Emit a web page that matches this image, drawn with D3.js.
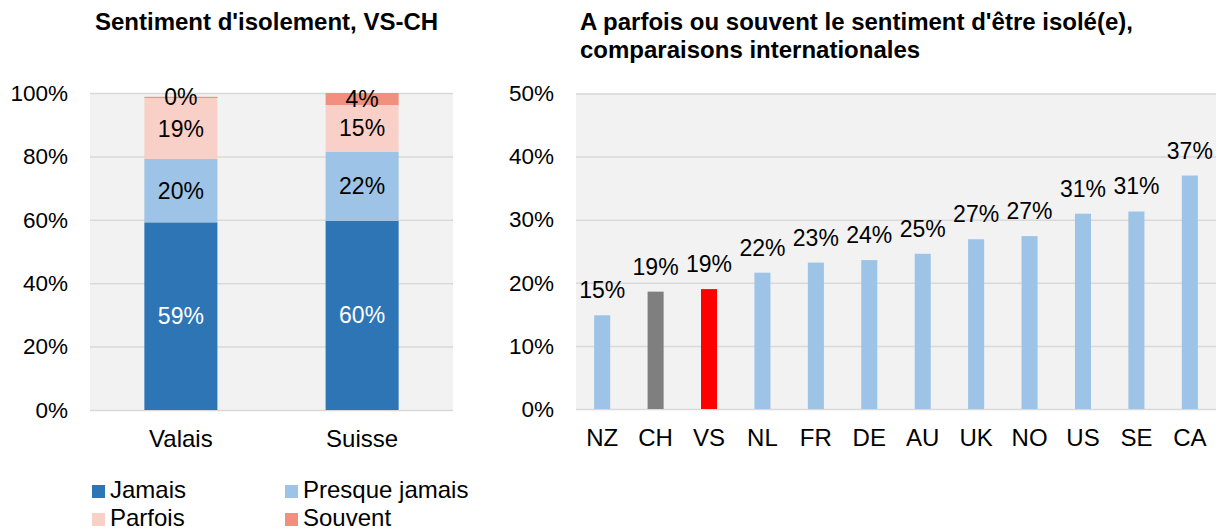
<!DOCTYPE html>
<html>
<head>
<meta charset="utf-8">
<script src="https://cdn.jsdelivr.net/npm/d3@7"></script>
<style>
  body { margin: 0; background: #fff; }
  svg { display: block; font-family: 'Liberation Sans', Arial, sans-serif; }
  .title { font-weight: bold; font-size: 24px; fill: #000; }
  .y-axis .tick text { font-size: 22.5px; fill: #000; }
  .x-axis .tick text { font-size: 24px; fill: #000; }
  .label { font-size: 23px; }
  .legend text { font-size: 24px; fill: #000; }
</style>
</head>
<body>
<div id="root"></div>
<script>
// left chart: stacked shares
const regions = ['Valais', 'Suisse'];
const frequencies = ['Jamais', 'Presque jamais', 'Parfois', 'Souvent'];
const jamais = [0.592, 0.597];
const presqueJamais = [0.200, 0.218];
const parfois = [0.192, 0.147];
const souvent = [0.004, 0.038];
const leftTicks = [0, 0.2, 0.4, 0.6, 0.8, 1];

// right chart: international comparison
const countries = ['NZ', 'CH', 'VS', 'NL', 'FR', 'DE', 'AU', 'UK', 'NO', 'US', 'SE', 'CA'];
const isolated = [0.1485, 0.186, 0.190, 0.216, 0.232, 0.236, 0.246, 0.269, 0.274, 0.3095, 0.313, 0.370];
const rightTicks = [0, 0.1, 0.2, 0.3, 0.4, 0.5];

const freqColors = ['#2e75b6', '#9dc3e6', '#f9d0c8', '#f1907f'];
const countryColor = c => c === 'CH' ? '#7f7f7f' : c === 'VS' ? '#ff0000' : '#9dc3e6';
const pct = d3.format('.0%');

const width = 1216;
const height = 529;

const svg = d3.select('#root').append('svg')
  .attr('width', width)
  .attr('height', height);

function drawFrame(g, x, y, ticks, plotW) {
  g.append('rect')
    .attr('x', 0)
    .attr('y', y.range()[1])
    .attr('width', plotW)
    .attr('height', y.range()[0] - y.range()[1])
    .attr('fill', '#f2f2f2');

  const yAxis = d3.axisLeft(y)
    .tickValues(ticks)
    .tickFormat(pct)
    .tickSize(-plotW)
    .tickPadding(22);

  g.append('g')
    .attr('class', 'y-axis')
    .call(yAxis)
    .call(s => s.select('.domain').remove())
    .call(s => s.selectAll('.tick line').attr('stroke', '#d9d9d9').attr('stroke-width', 1.5));

  const xAxis = d3.axisBottom(x).tickSize(0).tickPadding(20);
  g.append('g')
    .attr('class', 'x-axis')
    .attr('transform', `translate(0, ${y.range()[0]})`)
    .call(xAxis)
    .call(s => s.select('.domain').remove());
}

// ---- left chart ----
const left = { x0: 90, x1: 453, top: 93, bottom: 410 };
const gl = svg.append('g').attr('transform', `translate(${left.x0}, 0)`);

const xl = d3.scaleBand()
  .domain(regions)
  .range([0, left.x1 - left.x0])
  .paddingInner(0.597)
  .paddingOuter(0.3);

const yl = d3.scaleLinear()
  .domain([0, 1])
  .range([left.bottom, left.top]);

drawFrame(gl, xl, yl, leftTicks, left.x1 - left.x0);

const rows = regions.map((r, i) => ({
  region: r,
  'Jamais': jamais[i],
  'Presque jamais': presqueJamais[i],
  'Parfois': parfois[i],
  'Souvent': souvent[i],
}));
const stacked = d3.stack().keys(frequencies)(rows);

const layers = gl.selectAll('.layer')
  .data(stacked)
  .enter()
  .append('g')
  .attr('class', 'layer')
  .attr('fill', (d, i) => freqColors[i]);

layers.selectAll('rect')
  .data(d => d)
  .enter()
  .append('rect')
  .attr('x', d => xl(d.data.region))
  .attr('y', d => yl(d[1]))
  .attr('width', xl.bandwidth())
  .attr('height', d => yl(d[0]) - yl(d[1]));

layers.selectAll('text')
  .data(d => d)
  .enter()
  .append('text')
  .attr('class', 'label')
  .attr('x', d => xl(d.data.region) + xl.bandwidth() / 2)
  .attr('y', d => (yl(d[0]) + yl(d[1])) / 2)
  .attr('dy', '0.35em')
  .attr('text-anchor', 'middle')
  .attr('fill', (d, i, n) => d3.select(n[i].parentNode).datum().key === 'Jamais' ? '#fff' : '#000')
  .text(d => pct(d[1] - d[0]));

svg.append('text')
  .attr('class', 'title')
  .attr('x', 95)
  .attr('y', 30)
  .text("Sentiment d'isolement, VS-CH");

// legend
const legend = svg.append('g').attr('class', 'legend');
const legendItems = legend.selectAll('g')
  .data(frequencies)
  .enter()
  .append('g')
  .attr('transform', (d, i) => `translate(${i % 2 ? 285 : 92}, ${485 + Math.floor(i / 2) * 28})`);

legendItems.append('rect')
  .attr('width', 13)
  .attr('height', 13)
  .attr('fill', (d, i) => freqColors[i]);

legendItems.append('text')
  .attr('x', 18)
  .attr('y', 13)
  .text(d => d);

// ---- right chart ----
const right = { x0: 576, x1: 1216, top: 93.5, bottom: 409 };
const gr = svg.append('g').attr('transform', `translate(${right.x0}, 0)`);

const xr = d3.scaleBand()
  .domain(countries)
  .range([0, right.x1 - right.x0])
  .paddingInner(0.7)
  .paddingOuter(0.34);

const yr = d3.scaleLinear()
  .domain([0, 0.5])
  .range([right.bottom, right.top]);

drawFrame(gr, xr, yr, rightTicks, right.x1 - right.x0);

const data = countries.map((c, i) => ({ country: c, value: isolated[i] }));

gr.selectAll('.bar')
  .data(data)
  .enter()
  .append('rect')
  .attr('class', 'bar')
  .attr('x', d => xr(d.country))
  .attr('y', d => yr(d.value))
  .attr('width', xr.bandwidth())
  .attr('height', d => yr(0) - yr(d.value))
  .attr('fill', d => countryColor(d.country));

gr.selectAll('.value')
  .data(data)
  .enter()
  .append('text')
  .attr('class', 'label')
  .attr('x', d => xr(d.country) + xr.bandwidth() / 2)
  .attr('y', d => yr(d.value) - 17)
  .attr('text-anchor', 'middle')
  .attr('fill', '#000')
  .text(d => pct(d.value));

const rightTitle = svg.append('text')
  .attr('class', 'title')
  .attr('x', 580)
  .attr('y', 30);
rightTitle.append('tspan').text("A parfois ou souvent le sentiment d'être isolé(e),");
rightTitle.append('tspan').attr('x', 580).attr('dy', 28).text('comparaisons internationales');
</script>
</body>
</html>
